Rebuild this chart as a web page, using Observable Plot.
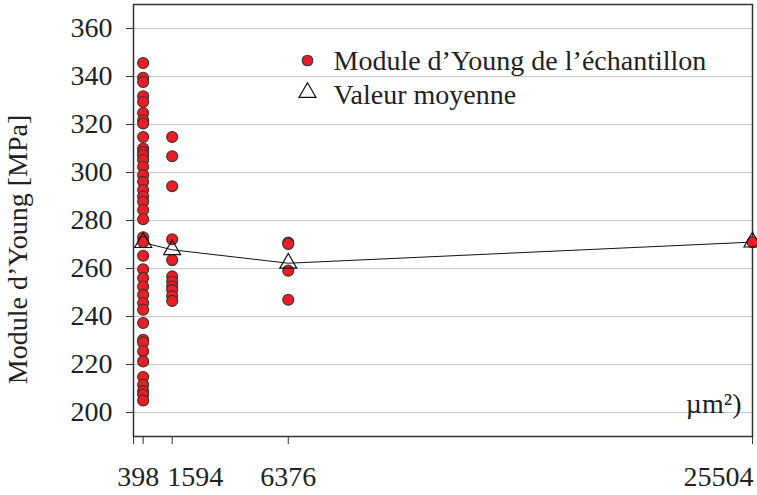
<!DOCTYPE html>
<html>
<head>
<meta charset="utf-8">
<script src="https://cdn.jsdelivr.net/npm/d3@7"></script>
<script src="https://cdn.jsdelivr.net/npm/@observablehq/plot@0.6"></script>
<style>
  html, body { margin: 0; padding: 0; background: #fff; }
</style>
</head>
<body>
<div id="chart"></div>
<script>
// Surfaces (µm²) on the x axis
const surfaces = [398, 1594, 6376, 25504];
// Young's modulus of each sample (MPa), per surface
const modules398 = [345.6, 339.5, 337.7, 331.8, 329.4, 324.8, 321.8, 320.4, 314.8, 310,
  308.6, 307.2, 305.2, 302.4, 298.9, 296.1, 292.7, 290, 287.8, 284.4,
  280.5, 273, 271, 265.3, 259.7, 256, 252.5, 249, 245.6, 242.8,
  237.3, 230.3, 229.2, 225.5, 221.3, 214.8, 211.6, 208.9, 207.5, 205];
const modules1594 = [314.8, 306.8, 294.3, 272.2, 263.5, 256.7, 254.6, 252.5, 251, 248.5, 246.5];
const modules6376 = [270.8, 270.2, 259.1, 247];
const modules25504 = [271];
// Mean values (MPa)
const means = [270.8, 267.8, 262.2, 271];
// Ticks
const yTicks = [200, 220, 240, 260, 280, 300, 320, 340, 360];
const xTickMarks = [0, 398, 1594, 6376, 25504];
// Texts
const yTitle = "Module d’Young [MPa]";
const legendSamples = "Module d’Young de l’échantillon";
const legendMean = "Valeur moyenne";
const unitText = "µm²)";

const samples = [modules398, modules1594, modules6376, modules25504]
  .flatMap((arr, i) => arr.map(v => ({surface: surfaces[i], module: v})));
const meanData = surfaces.map((s, i) => ({surface: s, module: means[i]}));

const red = "#ee1c24";
const fmt = d => String(d);

const chart = Plot.plot({
  width: 757,
  height: 495,
  marginLeft: 133,
  marginRight: 5,
  marginTop: 4,
  marginBottom: 59,
  x: {domain: [0, 25504], label: null},
  y: {domain: [190, 370], label: null},
  style: {fontFamily: "'Liberation Serif', 'Times New Roman', serif", fontSize: "28px", color: "#222", background: "#fff"},
  marks: [
    Plot.gridY(yTicks, {stroke: "#c8c8c8", strokeOpacity: 1, strokeWidth: 1}),
    Plot.frame({stroke: "#333", strokeWidth: 1.5}),
    Plot.axisY(yTicks, {tickSize: 7, tickPadding: 14, tickFormat: fmt, label: null, fontSize: 28, stroke: "#333"}),
    Plot.axisX(xTickMarks, {tickSize: 8, tickFormat: () => "", label: null, stroke: "#333"}),
    Plot.axisX([398], {tickSize: 0, tickPadding: 30, dx: -5, tickFormat: fmt, label: null, fontSize: 28}),
    Plot.axisX([1594], {tickSize: 0, tickPadding: 30, dx: -5, textAnchor: "start", tickFormat: fmt, label: null, fontSize: 28}),
    Plot.axisX([6376], {tickSize: 0, tickPadding: 30, tickFormat: fmt, label: null, fontSize: 28}),
    Plot.axisX([25504], {tickSize: 0, tickPadding: 30, dx: 1, textAnchor: "end", tickFormat: fmt, label: null, fontSize: 28}),
    Plot.line(meanData, {x: "surface", y: "module", stroke: "#111", strokeWidth: 1}),
    Plot.dot(samples, {x: "surface", y: "module", r: 5.5, fill: red, stroke: "#333", strokeWidth: 1.1}),
    Plot.dot(meanData, {x: "surface", y: "module", symbol: "triangle", r: 6.3, fill: "none", stroke: "#111", strokeWidth: 1.2}),
    // legend
    Plot.dot([legendSamples], {frameAnchor: "top-left", dx: 174, dy: 56, r: 5.3, fill: red, stroke: "#333", strokeWidth: 1.1}),
    Plot.text([legendSamples], {frameAnchor: "top-left", dx: 200, dy: 57, text: d => d, textAnchor: "start", lineAnchor: "middle", fontSize: 28, fill: "#222"}),
    Plot.dot([legendMean], {frameAnchor: "top-left", dx: 174, dy: 88, symbol: "triangle", r: 6.3, fill: "#fff", stroke: "#111", strokeWidth: 1.2}),
    Plot.text([legendMean], {frameAnchor: "top-left", dx: 200, dy: 91, text: d => d, textAnchor: "start", lineAnchor: "middle", fontSize: 28, fill: "#222"}),
    // unit fragment
    Plot.text([unitText], {frameAnchor: "bottom-right", dx: -11, dy: -24, text: d => d, textAnchor: "end", lineAnchor: "bottom", fontSize: 28, fill: "#222"}),
    // y title
    Plot.text([yTitle], {frameAnchor: "left", dx: -115, dy: 29, rotate: -90, text: d => d, textAnchor: "middle", lineAnchor: "middle", fontSize: 28, fill: "#222"})
  ]
});
document.getElementById("chart").appendChild(chart);
</script>
</body>
</html>
